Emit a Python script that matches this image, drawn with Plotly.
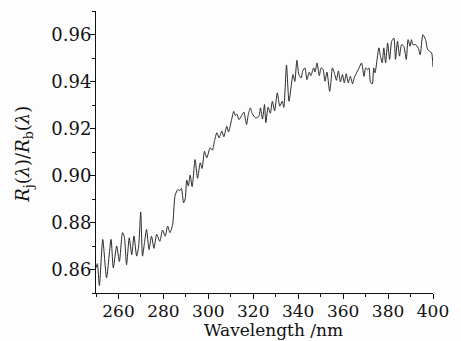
import plotly.graph_objects as go

wavelength = [250.0, 250.6, 251.5, 253.0, 254.7, 256.7, 257.7, 259.2, 260.4, 261.8,
              262.6, 263.6, 264.8, 265.9, 266.9, 268.1, 269.0, 269.9, 270.7, 271.6,
              272.5, 273.6, 274.7, 275.8, 277.0, 278.4, 279.6, 280.8, 281.9, 282.9,
              284.1, 285.2, 286.4, 287.2, 288.0, 289.0, 289.7, 290.4, 291.1, 291.9,
              292.8, 294.1, 295.2, 296.4, 297.2, 298.3, 299.3, 300.8, 301.8, 302.7,
              303.8, 304.8, 306.0, 306.9, 308.2, 309.0, 310.4, 311.3, 312.0, 312.6,
              313.7, 314.8, 315.8, 317.0, 317.8, 318.7, 319.6, 321.1, 322.5, 323.2,
              324.1, 325.0, 325.6, 326.6, 327.6, 328.5, 329.5, 330.7, 331.8, 332.9,
              333.6, 334.8, 335.9, 337.7, 338.5, 339.4, 340.3, 341.3, 342.0, 343.0,
              343.9, 344.9, 345.6, 346.9, 347.5, 348.4, 349.4, 350.2, 351.1, 351.9,
              352.8, 354.0, 354.6, 355.2, 356.1, 357.0, 357.9, 358.8, 359.7, 360.5,
              361.4, 362.3, 363.2, 364.2, 364.9, 366.4, 367.1, 368.2, 369.3, 370.0,
              370.8, 371.5, 372.2, 373.0, 373.6, 374.2, 375.9, 376.6, 377.4, 378.1,
              378.9, 379.8, 380.7, 381.6, 382.6, 383.3, 384.2, 385.1, 386.0, 387.0,
              388.1, 388.9, 389.8, 390.4, 391.0, 392.2, 393.4, 394.3, 395.5, 396.7,
              397.6, 398.5, 399.4, 400.0]

ratio = [0.8607, 0.8625, 0.8532, 0.8728, 0.8565, 0.8728, 0.8607, 0.8700, 0.8634, 0.8757,
         0.8740, 0.8620, 0.8735, 0.8663, 0.8742, 0.8657, 0.8700, 0.8845, 0.8657, 0.8715,
         0.8770, 0.8685, 0.8742, 0.8690, 0.8750, 0.8720, 0.8768, 0.8742, 0.8785, 0.8757,
         0.8790, 0.8915, 0.8940, 0.8935, 0.8945, 0.8884, 0.8900, 0.8980, 0.8955, 0.9002,
         0.8952, 0.9068, 0.8988, 0.9054, 0.9030, 0.9103, 0.9075, 0.9118, 0.9108, 0.9146,
         0.9182, 0.9160, 0.9189, 0.9165, 0.9210, 0.9185, 0.9240, 0.9273, 0.9255, 0.9262,
         0.9238, 0.9255, 0.9270, 0.9217, 0.9260, 0.9288, 0.9262, 0.9245, 0.9252, 0.9288,
         0.9240, 0.9302, 0.9225, 0.9290, 0.9265, 0.9316, 0.9275, 0.9352, 0.9295, 0.9316,
         0.9290, 0.9470, 0.9316, 0.9430, 0.9400, 0.9490, 0.9430, 0.9415, 0.9445, 0.9458,
         0.9408, 0.9440, 0.9425, 0.9458, 0.9440, 0.9479, 0.9425, 0.9458, 0.9451, 0.9401,
         0.9440, 0.9358, 0.9401, 0.9458, 0.9437, 0.9405, 0.9445, 0.9398, 0.9430, 0.9394,
         0.9433, 0.9394, 0.9422, 0.9390, 0.9415, 0.9445, 0.9458, 0.9479, 0.9422, 0.9458,
         0.9450, 0.9458, 0.9396, 0.9390, 0.9458, 0.9437, 0.9543, 0.9508, 0.9480, 0.9543,
         0.9480, 0.9564, 0.9494, 0.9571, 0.9585, 0.9494, 0.9571, 0.9508, 0.9557, 0.9550,
         0.9494, 0.9578, 0.9550, 0.9578, 0.9557, 0.9557, 0.9543, 0.9514, 0.9599, 0.9578,
         0.9536, 0.9529, 0.9521, 0.9462]

x_ticks = [260, 280, 300, 320, 340, 360, 380, 400]
y_ticks = [0.86, 0.88, 0.90, 0.92, 0.94, 0.96]
y_tick_labels = ["0.86", "0.88", "0.90", "0.92", "0.94", "0.96"]

FONT = "DejaVu Serif"

fig = go.Figure()
fig.add_trace(go.Scatter(x=wavelength, y=ratio, mode="lines",
                         line=dict(color="#2a2a2a", width=1, shape="spline", smoothing=0.6),
                         showlegend=False))

fig.update_layout(
    width=461, height=341,
    margin=dict(l=96, r=28, t=11, b=48),
    paper_bgcolor="#fdfdfd", plot_bgcolor="#fdfdfd",
    font=dict(family=FONT, size=17, color="#111"),
    xaxis=dict(range=[250, 400], tickvals=x_ticks, ticktext=[str(v) for v in x_ticks],
               showgrid=False, zeroline=False, showline=True, linecolor="#111", linewidth=1,
               ticks="outside", ticklen=5, tickwidth=1, tickcolor="#111",
               minor=dict(tickvals=[250 + 10 * i for i in range(16)], ticks="outside",
                          ticklen=3, tickwidth=1, tickcolor="#111"),
               ticklabelstandoff=-2,
               tickfont=dict(family=FONT, size=17), fixedrange=True),
    yaxis=dict(range=[0.85, 0.97], tickvals=y_ticks, ticktext=y_tick_labels,
               showgrid=False, zeroline=False, showline=True, linecolor="#111", linewidth=1,
               ticks="outside", ticklen=5, tickwidth=1, tickcolor="#111",
               minor=dict(tickvals=[0.85 + 0.01 * i for i in range(13)], ticks="outside",
                          ticklen=3, tickwidth=1, tickcolor="#111"),
               ticklabelstandoff=-5,
               tickfont=dict(family=FONT, size=18), fixedrange=True),
    annotations=[
        dict(text="Wavelength /nm", xref="paper", yref="paper", x=0.528, y=0,
             yshift=-25, xanchor="center", yanchor="top", showarrow=False,
             font=dict(family=FONT, size=17)),
        dict(text="<i>R</i><sub>j</sub>(<i>λ</i>)/<i>R</i><sub>b</sub>(<i>λ</i>)",
             xref="paper", yref="paper", x=0, y=0.49, xshift=-72, xanchor="center",
             yanchor="middle", textangle=-90, showarrow=False,
             font=dict(family=FONT, size=18)),
    ],
)

fig.write_html("out.html", config={"displayModeBar": False},
               post_script="document.body.style.margin='0';document.body.style.padding='0';")
